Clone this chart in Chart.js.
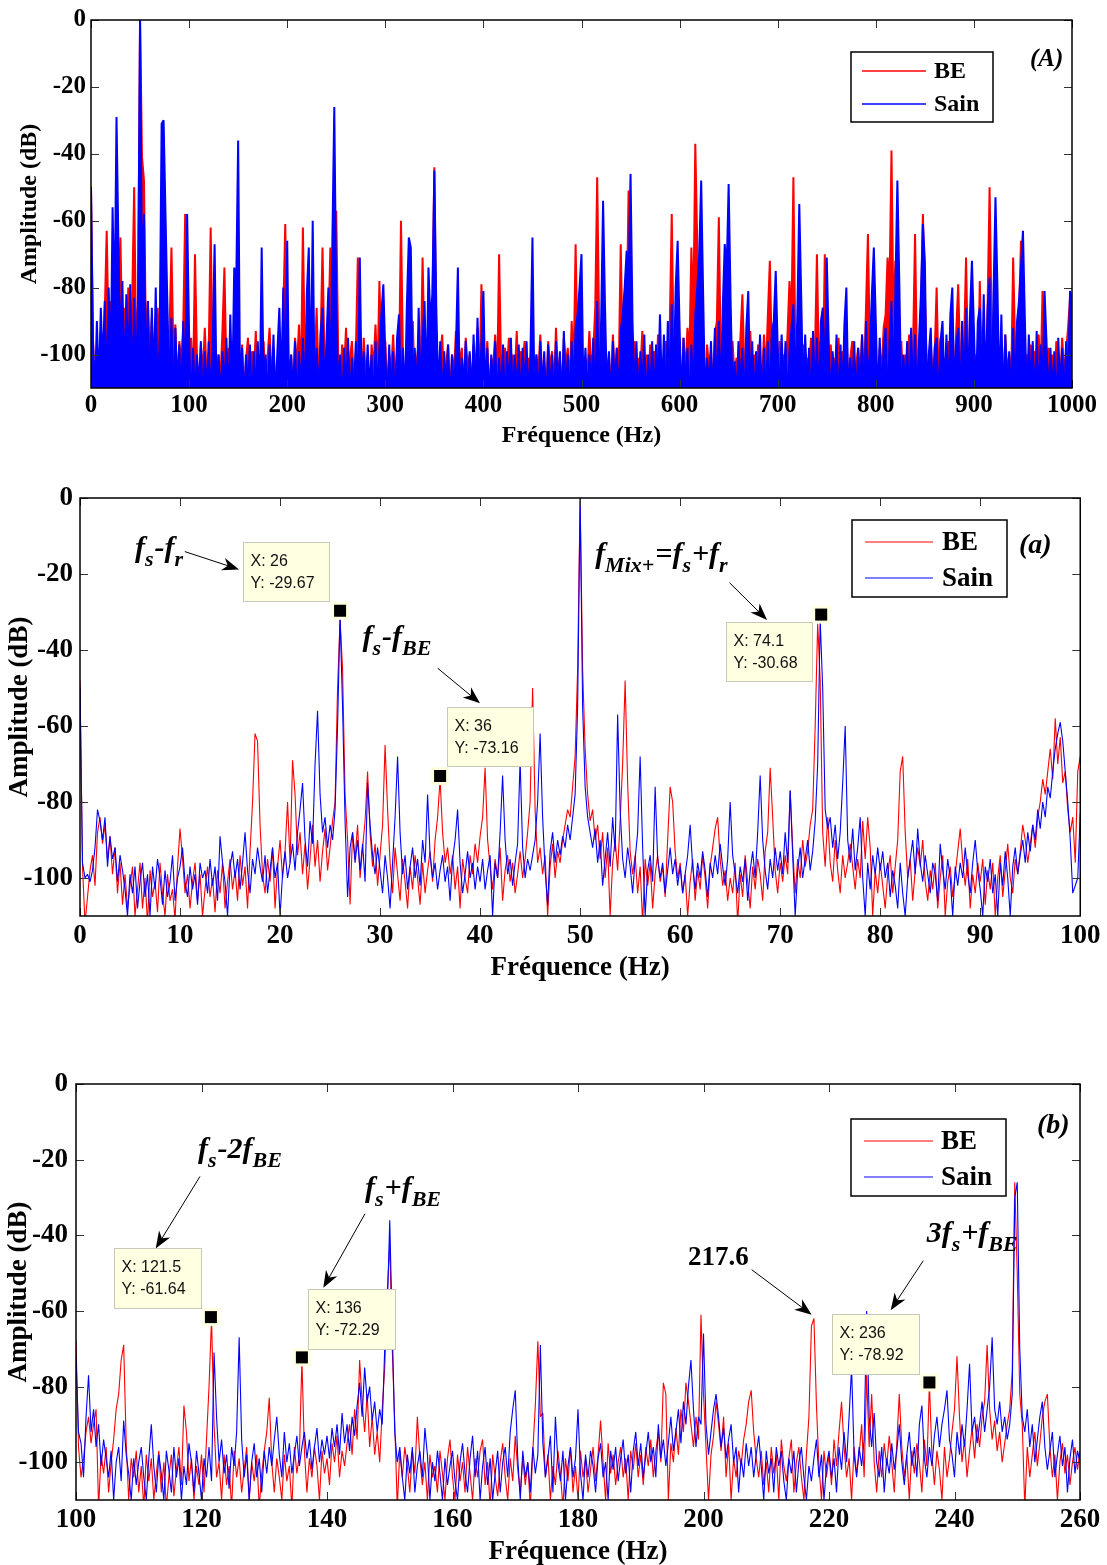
<!DOCTYPE html>
<html>
<head>
<meta charset="utf-8">
<title>Spectres BE / Sain</title>
<script src="https://cdn.jsdelivr.net/npm/chart.js@4.4.1/dist/chart.umd.min.js"></script>
<style>
  html, body { margin: 0; padding: 0; background: #fff; }
  body { position: relative; width: 1107px; height: 1565px; overflow: hidden; }
  canvas { position: absolute; left: 0; }
</style>
</head>
<body>
<canvas id="chartFull" width="1107" height="460" style="top:0px"></canvas>
<canvas id="chartLow" width="1107" height="520" style="top:470px"></canvas>
<canvas id="chartHigh" width="1107" height="516" style="top:1050px"></canvas>
<script>
const seriesNames = ["BE", "Sain"];
const seriesColors = ["#ff0000", "#0000ff"];
const yTicks = [0, -20, -40, -60, -80, -100];

// (A) 0-1000 Hz, one value every 2 Hz
const fullStart = 0, fullStep = 2;
const fullTicks = [0, 100, 200, 300, 400, 500, 600, 700, 800, 900, 1000];
const beFull = [
  -50,-95,-112,-98,-106,-93,-101,-88,-63,-96,-84,-104,-79,-92,-83,-65,-99,-86,-107,-80,-95,-84,-50,-98,-85,
  0,-41,-48,-96,-84,-102,-89,-110,-93,-86,-104,-90,-97,-85,-108,-94,-68,-100,-91,-112,-96,-103,-92,-58,-99,
  -104,-95,-110,-70,-101,-113,-97,-106,-92,-108,-99,-62,-103,-95,-111,-100,-107,-93,-74,-105,-98,-114,-96,-104,-91,
  -101,-108,-97,-112,-102,-95,-109,-99,-106,-93,-111,-100,-104,-96,-113,-101,-92,-107,-98,-110,-103,-94,-108,-88,-61,
  -97,-106,-100,-112,-95,-104,-91,-109,-62,-101,-107,-94,-110,-98,-103,-86,-108,-97,-68,-102,-111,-93,-68,-104,-99,
  -57,-100,-110,-97,-105,-92,-112,-101,-96,-108,-99,-71,-103,-110,-95,-106,-100,-113,-97,-104,-91,-107,-78,-102,-109,
  -96,-111,-100,-105,-94,-109,-99,-104,-60,-101,-112,-95,-107,-98,-90,-110,-102,-97,-106,-71,-100,-113,-96,-104,-88,
  -44,-99,-108,-101,-94,-110,-103,-97,-112,-100,-106,-93,-109,-102,-98,-111,-95,-104,-100,-113,-97,-105,-92,-108,-79,
  -100,-107,-96,-112,-101,-104,-94,-109,-70,-103,-111,-98,-105,-95,-110,-100,-107,-93,-112,-99,-104,-96,-109,-101,-106,
  -97,-111,-100,-105,-94,-108,-102,-113,-96,-104,-99,-110,-92,-106,-101,-112,-95,-103,-98,-109,-90,-104,-67,-100,-108,
  -95,-110,-101,-106,-93,-104,-99,-86,-47,-92,-103,-111,-97,-105,-100,-112,-94,-107,-98,-104,-67,-101,-110,-90,-51,
  -99,-108,-96,-111,-101,-105,-93,-109,-100,-113,-97,-104,-99,-110,-94,-107,-102,-111,-96,-104,-91,-58,-100,-108,-97,
  -103,-111,-95,-106,-92,-100,-68,-88,-37,-67,-96,-108,-101,-112,-97,-104,-99,-110,-94,-90,-59,-102,-109,-98,-105,
  -100,-112,-96,-107,-101,-110,-95,-82,-104,-99,-111,-93,-106,-100,-113,-97,-103,-108,-94,-105,-88,-72,-101,-110,-98,
  -104,-96,-111,-100,-107,-94,-78,-90,-47,-99,-103,-76,-108,-97,-112,-101,-105,-95,-110,-99,-70,-104,-96,-108,-70,
  -100,-110,-97,-105,-101,-113,-95,-107,-99,-104,-92,-109,-101,-96,-111,-103,-98,-106,-94,-110,-86,-64,-100,-108,-97,
  -104,-111,-98,-106,-92,-88,-71,-80,-39,-90,-72,-102,-108,-96,-111,-100,-105,-94,-109,-98,-64,-103,-110,-88,-58,
  -82,-104,-111,-97,-106,-100,-80,-108,-95,-112,-101,-104,-96,-110,-99,-106,-93,-79,-102,-109,-97,-71,-104,-111,-98,
  -105,-100,-112,-78,-103,-96,-108,-85,-50,-90,-101,-110,-97,-105,-99,-112,-94,-106,-100,-109,-71,-97,-104,-88,-66,
  -95,-107,-100,-111,-97,-104,-99,-110,-94,-106,-81,-101,-109,-98,-105,-100,-112,-96,-103,-108,-95,-106,-99,-92,-83,
  -90
];
const sainFull = [
  -50,-96,-112,-90,-110,-86,-104,-84,-112,-80,-106,-56,-88,-29,-68,-98,-78,-110,-82,-104,-79,-112,-83,-108,-81,
  0,-80,-58,-110,-84,-112,-86,-108,-80,-114,-95,-31,-30,-59,-87,-112,-89,-116,-92,-110,-97,-114,-90,-112,-58,
  -94,-116,-98,-112,-100,-110,-96,-115,-99,-112,-96,-114,-97,-67,-112,-100,-114,-99,-110,-95,-116,-88,-112,-74,-80,
  -36,-112,-98,-114,-100,-110,-97,-116,-99,-112,-96,-114,-68,-110,-100,-115,-97,-112,-94,-114,-99,-86,-110,-80,-112,
  -66,-114,-100,-112,-96,-116,-99,-110,-95,-114,-82,-68,-110,-60,-112,-98,-114,-94,-86,-112,-96,-80,-110,-67,-26,
  -84,-112,-100,-116,-98,-110,-95,-114,-101,-112,-96,-115,-71,-112,-99,-114,-97,-110,-100,-116,-96,-112,-98,-88,-79,
  -100,-114,-97,-112,-99,-116,-95,-88,-112,-98,-114,-85,-65,-68,-112,-98,-114,-86,-110,-95,-84,-112,-74,-90,-82,
  -45,-86,-112,-96,-114,-99,-110,-97,-116,-100,-112,-98,-74,-114,-101,-110,-96,-115,-99,-112,-94,-114,-89,-110,-97,
  -81,-112,-98,-115,-100,-110,-96,-114,-101,-112,-97,-116,-99,-110,-95,-114,-100,-112,-97,-115,-98,-110,-96,-114,-99,
  -65,-112,-100,-114,-96,-110,-99,-116,-97,-112,-100,-114,-96,-110,-99,-115,-93,-112,-100,-114,-96,-110,-92,-88,-80,
  -70,-112,-98,-114,-100,-110,-95,-116,-84,-112,-90,-54,-86,-112,-99,-114,-96,-110,-98,-115,-93,-88,-80,-69,-78,
  -46,-90,-112,-96,-114,-99,-110,-94,-116,-100,-112,-96,-114,-97,-110,-88,-112,-94,-115,-90,-112,-85,-110,-80,-66,
  -92,-114,-95,-110,-98,-116,-97,-112,-88,-80,-70,-48,-82,-114,-101,-110,-96,-115,-92,-112,-90,-114,-86,-67,-75,
  -49,-84,-112,-102,-114,-96,-110,-98,-116,-92,-81,-112,-96,-114,-99,-110,-94,-115,-98,-112,-96,-114,-93,-90,-75,
  -98,-114,-94,-110,-96,-116,-99,-92,-85,-112,-88,-55,-83,-114,-94,-110,-98,-116,-93,-112,-95,-114,-90,-86,-112,
  -71,-96,-114,-99,-110,-94,-116,-97,-112,-91,-80,-114,-101,-110,-96,-115,-98,-112,-94,-114,-90,-110,-98,-82,-68,
  -90,-114,-95,-112,-98,-92,-116,-96,-84,-112,-80,-48,-79,-114,-100,-110,-96,-115,-92,-112,-94,-114,-96,-82,-61,
  -72,-112,-100,-92,-114,-98,-95,-116,-96,-90,-112,-94,-114,-88,-80,-112,-97,-92,-115,-90,-112,-86,-110,-88,-72,
  -92,-114,-90,-86,-112,-82,-110,-86,-77,-114,-82,-53,-80,-112,-88,-116,-94,-110,-99,-114,-92,-112,-90,-84,-74,
  -63,-90,-114,-94,-110,-96,-116,-93,-112,-97,-110,-81,-96,-114,-98,-112,-99,-116,-95,-110,-98,-114,-96,-110,-81,
  -84
];

// (a) 0-100 Hz, one value every 0.25 Hz
const lowStart = 0, lowStep = 0.25;
const lowTicks = [0, 10, 20, 30, 40, 50, 60, 70, 80, 90, 100];
const beLow = [
  -48,-97,-112,-105,-98,-94,-102,-88,-84,-91,-86,-95,-89,-99,-92,-104,-96,-107,-99,-108,
  -102,-97,-110,-103,-96,-108,-100,-112,-98,-105,-101,-109,-96,-104,-110,-99,-106,-103,-111,-97,
  -87,-95,-104,-99,-108,-101,-96,-106,-99,-110,-103,-97,-105,-100,-109,-98,-104,-96,-108,-101,
  -95,-103,-98,-106,-94,-102,-97,-108,-93,-80,-62,-64,-86,-99,-104,-95,-101,-92,-108,-97,
  -90,-100,-93,-80,-96,-69,-78,-94,-88,-99,-91,-103,-95,-86,-97,-90,-101,-93,-87,-98,
  -92,-85,-80,-50,-32,-45,-78,-90,-107,-88,-95,-86,-100,-92,-85,-72,-88,-97,-91,-102,
  -94,-86,-65,-82,-96,-104,-92,-99,-106,-95,-101,-108,-97,-103,-94,-100,-107,-96,-104,-98,
  -93,-101,-90,-84,-74,-88,-96,-92,-99,-94,-103,-97,-108,-95,-100,-104,-94,-99,-91,-96,
  -89,-84,-71,-90,-97,-103,-95,-100,-92,-106,-98,-94,-101,-96,-104,-99,-93,-100,-95,-88,
  -80,-50,-82,-96,-92,-99,-94,-110,-97,-91,-100,-93,-96,-90,-86,-82,-84,-76,-68,-45,
  0,-45,-66,-78,-85,-82,-90,-86,-95,-88,-100,-92,-110,-96,-90,-98,-85,-70,-48,-75,
  -93,-99,-94,-104,-97,-112,-95,-102,-96,-108,-99,-94,-101,-97,-105,-90,-76,-80,-93,-100,
  -96,-104,-99,-110,-101,-95,-106,-98,-103,-94,-100,-108,-97,-92,-87,-84,-95,-102,-98,-106,
  -100,-104,-96,-112,-99,-105,-94,-101,-108,-97,-103,-95,-99,-106,-93,-88,-71,-84,-98,-104,
  -96,-101,-94,-99,-77,-92,-104,-95,-100,-90,-97,-93,-86,-82,-60,-33,-48,-88,-97,-84,
  -96,-101,-90,-98,-104,-94,-100,-96,-91,-97,-103,-95,-100,-85,-95,-84,-92,-110,-98,-104,
  -96,-102,-108,-99,-94,-104,-97,-90,-72,-68,-88,-100,-95,-106,-98,-92,-97,-90,-101,-106,
  -98,-103,-96,-108,-100,-94,-110,-101,-97,-105,-99,-93,-87,-96,-102,-95,-108,-99,-104,-96,
  -101,-95,-107,-98,-103,-96,-110,-100,-94,-105,-98,-91,-100,-104,-95,-99,-93,-86,-90,-96,
  -91,-86,-92,-84,-80,-74,-78,-72,-66,-74,-58,-70,-63,-75,-72,-82,-88,-84,-96,-72,
  -68
];
const sainLow = [
  -50,-96,-100,-99,-101,-98,-92,-82,-85,-90,-84,-97,-89,-95,-92,-101,-94,-98,-103,-110,
  -99,-104,-97,-108,-101,-96,-105,-99,-110,-97,-103,-95,-100,-107,-98,-105,-101,-94,-106,-100,
  -97,-92,-101,-105,-97,-103,-99,-107,-96,-100,-98,-104,-95,-102,-97,-106,-89,-96,-101,-110,
  -97,-93,-100,-95,-103,-96,-88,-98,-104,-95,-99,-92,-97,-101,-94,-104,-98,-92,-100,-96,
  -110,-99,-93,-100,-96,-91,-98,-88,-82,-75,-90,-97,-85,-91,-70,-56,-78,-88,-84,-92,
  -86,-90,-82,-60,-31,-55,-85,-105,-92,-88,-96,-90,-98,-91,-101,-75,-86,-94,-99,-92,
  -98,-104,-94,-100,-108,-96,-84,-68,-88,-99,-94,-103,-97,-92,-100,-95,-102,-90,-96,-78,
  -94,-100,-96,-103,-98,-94,-101,-97,-106,-95,-90,-82,-96,-104,-99,-93,-100,-96,-103,-97,
  -101,-95,-103,-98,-94,-110,-96,-100,-88,-73,-90,-99,-95,-102,-96,-91,-69,-92,-100,-95,
  -98,-94,-90,-80,-62,-84,-98,-107,-93,-88,-96,-90,-94,-89,-92,-86,-90,-84,-78,-55,
  0,-55,-76,-84,-88,-92,-87,-96,-90,-102,-95,-88,-97,-84,-93,-57,-82,-95,-100,-92,
  -97,-104,-95,-88,-68,-92,-110,-98,-94,-101,-76,-95,-100,-96,-104,-98,-92,-99,-95,-102,
  -97,-104,-99,-94,-86,-97,-103,-96,-100,-93,-98,-105,-96,-100,-94,-99,-91,-97,-102,-95,
  -80,-94,-99,-104,-97,-101,-95,-106,-98,-93,-100,-88,-73,-90,-98,-103,-95,-100,-92,-98,
  -93,-99,-88,-96,-77,-94,-110,-98,-92,-100,-95,-90,-98,-93,-85,-70,-32,-50,-82,-87,
  -84,-92,-86,-95,-88,-75,-60,-90,-96,-87,-98,-92,-84,-100,-110,-96,-103,-94,-99,-92,
  -98,-93,-100,-96,-105,-98,-102,-108,-96,-104,-110,-100,-95,-90,-99,-87,-96,-101,-94,-99,
  -104,-96,-99,-106,-91,-98,-103,-95,-100,-110,-97,-102,-96,-100,-92,-99,-104,-96,-90,-98,
  -103,-110,-97,-101,-95,-104,-99,-110,-96,-102,-93,-100,-110,-97,-92,-99,-94,-90,-96,-88,
  -93,-86,-90,-82,-87,-80,-84,-76,-79,-72,-66,-62,-59,-64,-72,-80,-90,-104,-102,-100,
  -83
];
const lowTips = [[26, -29.67], [36, -73.16], [74.1, -30.68]];

// (b) 100-260 Hz, one value every 0.4 Hz
const highStart = 100, highStep = 0.4;
const highTicks = [100, 120, 140, 160, 180, 200, 220, 240, 260];
const beHigh = [
  -68,-96,-104,-99,-92,-88,-95,-90,-86,-112,-98,-103,-96,-108,-100,-94,-86,-82,-73,-69,-95,-110,-99,-104,-97,
  -108,-101,-112,-98,-105,-99,-110,-103,-97,-108,-100,-112,-104,-98,-109,-102,-96,-106,-85,-92,-105,-99,-110,-101,-106,
  -98,-108,-94,-80,-62,-90,-104,-100,-110,-98,-106,-101,-112,-97,-104,-99,-108,-102,-96,-110,-100,-105,-98,-112,-103,
  -97,-92,-83,-100,-108,-99,-104,-110,-98,-105,-101,-112,-96,-103,-98,-73,-97,-108,-99,-104,-96,-101,-110,-97,-103,
  -99,-106,-95,-100,-93,-104,-97,-101,-95,-90,-98,-86,-94,-73,-84,-92,-82,-96,-88,-98,-92,-100,-86,-75,-55,
  -42,-70,-90,-112,-97,-104,-96,-101,-108,-97,-103,-88,-99,-106,-100,-110,-98,-104,-101,-108,-97,-103,-110,-99,-94,
  -104,-110,-98,-105,-100,-108,-96,-103,-110,-99,-104,-97,-94,-106,-100,-112,-98,-104,-109,-100,-95,-104,-110,-99,-105,
  -93,-102,-108,-99,-106,-100,-112,-97,-85,-68,-88,-87,-104,-98,-110,-101,-106,-97,-103,-112,-99,-105,-96,-108,-101,
  -110,-97,-104,-99,-108,-102,-96,-105,-98,-89,-100,-110,-95,-103,-98,-106,-100,-96,-104,-99,-110,-97,-102,-95,-104,
  -98,-106,-96,-101,-94,-104,-97,-92,-100,-79,-82,-110,-95,-100,-91,-98,-86,-92,-79,-84,-90,-96,-88,-94,-61,
  -82,-96,-110,-98,-93,-84,-90,-97,-88,-104,-95,-110,-99,-104,-97,-101,-94,-90,-84,-81,-92,-99,-104,-97,-106,
  -100,-108,-96,-103,-98,-110,-94,-101,-105,-99,-94,-108,-100,-96,-104,-110,-98,-88,-64,-62,-85,-101,-110,-97,-104,
  -98,-106,-94,-101,-92,-84,-96,-104,-99,-110,-96,-103,-98,-90,-104,-77,-96,-82,-100,-108,-97,-104,-95,-101,-93,
  -100,-108,-95,-82,-96,-104,-98,-110,-97,-103,-95,-100,-108,-94,-101,-79,-98,-106,-97,-102,-110,-96,-104,-99,-92,
  -86,-72,-88,-100,-94,-104,-97,-91,-99,-90,-96,-88,-84,-69,-86,-94,-89,-97,-92,-100,-95,-90,-86,-76,-26,
  -50,-82,-90,-112,-96,-104,-98,-92,-101,-95,-88,-84,-82,-96,-104,-98,-110,-100,-95,-103,-98,-106,-100,-96,-102,
  -97
];
const sainHigh = [
  -72,-92,-95,-104,-88,-77,-92,-86,-96,-90,-101,-94,-99,-104,-97,-110,-100,-96,-105,-89,-98,-103,-110,-99,-106,
  -100,-96,-104,-110,-99,-90,-101,-108,-98,-103,-110,-97,-102,-108,-96,-104,-99,-110,-101,-106,-95,-100,-108,-97,-103,
  -110,-99,-104,-96,-105,-71,-88,-100,-94,-103,-98,-107,-96,-101,-92,-67,-94,-104,-98,-110,-100,-95,-104,-99,-108,
  -97,-103,-96,-101,-94,-88,-98,-104,-92,-100,-95,-103,-98,-93,-101,-96,-92,-99,-94,-102,-96,-91,-100,-94,-98,
  -93,-99,-91,-96,-90,-98,-87,-95,-90,-97,-88,-93,-85,-79,-88,-75,-84,-80,-89,-84,-92,-86,-90,-70,-60,
  -36,-65,-92,-100,-96,-104,-110,-98,-103,-96,-108,-101,-97,-104,-91,-98,-110,-100,-105,-97,-103,-110,-99,-106,-101,
  -97,-105,-110,-100,-95,-103,-108,-99,-93,-104,-97,-110,-101,-96,-106,-99,-110,-103,-97,-108,-100,-96,-104,-92,-86,
  -81,-99,-110,-97,-104,-100,-108,-96,-103,-98,-69,-95,-104,-99,-93,-108,-88,-100,-105,-97,-110,-101,-96,-104,-99,
  -86,-103,-110,-98,-104,-97,-101,-108,-99,-95,-104,-100,-110,-97,-102,-96,-105,-99,-94,-103,-98,-108,-97,-92,-101,
  -95,-104,-98,-92,-100,-96,-104,-90,-99,-94,-101,-95,-88,-97,-92,-86,-95,-84,-90,-80,-73,-86,-96,-88,-90,
  -66,-90,-98,-92,-86,-82,-88,-96,-91,-99,-94,-90,-100,-96,-108,-99,-104,-95,-101,-96,-104,-98,-93,-101,-110,
  -97,-103,-99,-108,-96,-101,-97,-105,-110,-99,-103,-97,-108,-100,-96,-104,-110,-101,-105,-99,-94,-104,-98,-110,-101,
  -97,-104,-99,-108,-96,-102,-92,-100,-88,-75,-98,-104,-96,-101,-94,-60,-88,-96,-87,-100,-104,-96,-108,-99,-103,
  -95,-102,-97,-90,-100,-106,-98,-92,-101,-96,-104,-90,-85,-99,-104,-96,-101,-93,-88,-96,-90,-86,-81,-94,-98,
  -104,-92,-98,-90,-96,-86,-74,-92,-88,-95,-90,-84,-92,-86,-80,-67,-86,-90,-84,-92,-88,-94,-90,-82,-30,
  -26,-70,-88,-92,-86,-96,-90,-100,-94,-88,-84,-96,-102,-97,-92,-104,-98,-93,-101,-96,-108,-99,-94,-103,-97,
  -100
];
const highTips = [[121.5, -61.64], [136, -72.29], [236, -78.92]];

// ---------- drawing helpers ----------
function toPoints(start, step, values) {
  return values.map((v, i) => ({ x: start + i * step, y: v }));
}

function drawArrow(ctx, x1, y1, x2, y2) {
  const a = Math.atan2(y2 - y1, x2 - x1), L = 17, W = 6.5;
  const c = Math.cos(a), s = Math.sin(a);
  ctx.lineWidth = 1;
  ctx.beginPath();
  ctx.moveTo(x1, y1);
  ctx.lineTo(x2 - c * L * 0.6, y2 - s * L * 0.6);
  ctx.stroke();
  ctx.beginPath();
  ctx.moveTo(x2, y2);
  ctx.lineTo(x2 - c * L + s * W, y2 - s * L - c * W);
  ctx.lineTo(x2 - c * L * 0.7, y2 - s * L * 0.7);
  ctx.lineTo(x2 - c * L - s * W, y2 - s * L + c * W);
  ctx.closePath();
  ctx.fill();
}

function drawNote(ctx, x, y, parts, size, upright) {
  const style = upright ? "bold " : "italic bold ";
  ctx.textAlign = "left";
  ctx.textBaseline = "alphabetic";
  let cx = x;
  parts.forEach(([txt, sub]) => {
    const fs = sub ? Math.round(size * 0.74) : size;
    ctx.font = style + fs + 'px "Liberation Serif"';
    ctx.fillText(txt, cx, sub ? y + size * 0.3 : y);
    cx += ctx.measureText(txt).width + (sub ? 1 : 0);
  });
}

function decorPlugin(d) {
  return {
    id: "decor",
    afterDraw(chart) {
      const ctx = chart.ctx;
      const { left, right, top, bottom } = chart.chartArea;
      const xs = chart.scales.x, ys = chart.scales.y;
      const px = v => xs.getPixelForValue(v), py = v => ys.getPixelForValue(v);
      ctx.save();

      // inward tick marks on all four sides, then the box
      ctx.strokeStyle = "#333";
      ctx.lineWidth = 1;
      ctx.beginPath();
      xs.ticks.forEach(t => {
        const x = Math.round(px(t.value)) + 0.5;
        ctx.moveTo(x, bottom); ctx.lineTo(x, bottom - 8);
        ctx.moveTo(x, top); ctx.lineTo(x, top + 8);
      });
      ys.ticks.forEach(t => {
        const y = Math.round(py(t.value)) + 0.5;
        ctx.moveTo(left, y); ctx.lineTo(left + 8, y);
        ctx.moveTo(right, y); ctx.lineTo(right - 8, y);
      });
      ctx.stroke();
      ctx.strokeStyle = "#000";
      ctx.lineWidth = 1.5;
      ctx.strokeRect(left, top, right - left, bottom - top);

      // text notes and arrows (anchored in data units)
      ctx.fillStyle = "#000";
      ctx.strokeStyle = "#000";
      (d.notes || []).forEach(n => drawNote(ctx, px(n.at[0]), py(n.at[1]), n.parts, n.size, n.upright));
      (d.arrows || []).forEach(a => drawArrow(ctx, px(a[0]), py(a[1]), px(a[2]), py(a[3])));

      // data tips
      (d.tips || []).forEach((t, i) => {
        const mx = px(t[0]), my = py(t[1]);
        ctx.fillStyle = "#ffffe1";
        ctx.fillRect(mx - 9, my - 9, 18, 18);
        ctx.fillStyle = "#000";
        ctx.fillRect(mx - 6, my - 6, 12, 12);
        const b = d.tipBoxes[i];
        const bx = Math.round(px(b[0])) + 0.5, by = Math.round(py(b[1])) + 0.5;
        ctx.fillStyle = "#ffffe1";
        ctx.fillRect(bx, by, d.tipSize[0], d.tipSize[1]);
        ctx.strokeStyle = "#c8c8b8";
        ctx.lineWidth = 1;
        ctx.strokeRect(bx, by, d.tipSize[0], d.tipSize[1]);
        ctx.fillStyle = "#111";
        ctx.font = '16px "Liberation Sans"';
        ctx.textAlign = "left";
        ctx.textBaseline = "middle";
        ctx.fillText("X: " + t[0], bx + 7, by + 19);
        ctx.fillText("Y: " + t[1], bx + 7, by + 41);
      });

      // legend box
      const lg = d.legend;
      ctx.fillStyle = "#fff";
      ctx.fillRect(lg.x, lg.y, lg.w, lg.h);
      ctx.strokeStyle = "#000";
      ctx.lineWidth = 1.5;
      ctx.strokeRect(lg.x, lg.y, lg.w, lg.h);
      chart.data.datasets.forEach((ds, i) => {
        const y = lg.rows[i];
        ctx.strokeStyle = ds.borderColor;
        ctx.lineWidth = lg.lw;
        ctx.beginPath();
        ctx.moveTo(lg.line[0], y); ctx.lineTo(lg.line[1], y);
        ctx.stroke();
        ctx.fillStyle = "#000";
        ctx.font = "bold " + lg.size + 'px "Liberation Serif"';
        ctx.textAlign = "left";
        ctx.textBaseline = "middle";
        ctx.fillText(ds.label, lg.textX, y + 1);
      });

      // panel tag
      ctx.font = "italic bold " + d.tag.size + 'px "Liberation Serif"';
      ctx.fillStyle = "#000";
      ctx.textBaseline = "middle";
      ctx.fillText(d.tag.text, d.tag.x, d.tag.y);
      ctx.restore();
    }
  };
}

function makeChart(id, c) {
  const serif = (size) => ({ family: "Liberation Serif", size: size, weight: "bold", lineHeight: 1 });
  return new Chart(document.getElementById(id), {
    type: "line",
    data: {
      datasets: [
        { label: seriesNames[0], data: toPoints(c.start, c.step, c.be), borderColor: seriesColors[0],
          backgroundColor: seriesColors[0], order: 1 },
        { label: seriesNames[1], data: toPoints(c.start, c.step, c.sain), borderColor: seriesColors[1],
          backgroundColor: seriesColors[1], order: 0 }
      ].map(ds => Object.assign(ds, {
        borderWidth: c.lineWidth, pointRadius: 0, fill: c.fill ? "start" : false, tension: 0,
        borderJoinStyle: "bevel"
      }))
    },
    options: {
      responsive: false,
      animation: false,
      events: [],
      layout: { padding: c.pad },
      plugins: { legend: { display: false }, tooltip: { enabled: false } },
      scales: {
        x: {
          type: "linear",
          min: c.xTicks[0],
          max: c.xTicks[c.xTicks.length - 1],
          grid: { display: false, drawTicks: false },
          border: { display: false },
          afterBuildTicks: s => { s.ticks = c.xTicks.map(v => ({ value: v })); },
          afterFit: s => { s.height = c.xHeight; },
          ticks: { autoSkip: false, maxRotation: 0, padding: c.xTickPad, color: "#000",
                   font: serif(c.tickSize), callback: v => String(v) },
          title: { display: true, text: "Fréquence (Hz)", color: "#000", font: serif(c.titleSize), padding: 0 }
        },
        y: {
          min: -110,
          max: 0,
          grid: { display: false, drawTicks: false },
          border: { display: false },
          afterBuildTicks: s => { s.ticks = yTicks.map(v => ({ value: v })); },
          afterFit: s => { s.width = c.yWidth; },
          ticks: { autoSkip: false, padding: c.yTickPad, color: "#000",
                   font: serif(c.tickSize), callback: v => String(v) },
          title: { display: true, text: "Amplitude (dB)", color: "#000", font: serif(c.titleSize),
                   padding: { top: c.yTitlePad, bottom: 0 } }
        }
      }
    },
    plugins: [decorPlugin(c.decor)]
  });
}

// ---------- the three panels ----------
makeChart("chartFull", {
  start: fullStart, step: fullStep, be: beFull, sain: sainFull, xTicks: fullTicks,
  lineWidth: 2, fill: true, pad: { left: 0, right: 35, top: 20, bottom: 12 },
  xHeight: 60, yWidth: 91, xTickPad: 5.5, yTickPad: 5, yTitlePad: 18, tickSize: 25, titleSize: 24,
  decor: {
    legend: { x: 851, y: 52, w: 142, h: 70, line: [862, 926], rows: [71, 104], textX: 934, size: 24, lw: 1.6 },
    tag: { text: "(A)", x: 1030, y: 60, size: 25 }
  }
});

makeChart("chartLow", {
  start: lowStart, step: lowStep, be: beLow, sain: sainLow, xTicks: lowTicks,
  lineWidth: 1.1, pad: { left: 0, right: 25, top: 28, bottom: 8.5 },
  xHeight: 65.5, yWidth: 80, xTickPad: 6.5, yTickPad: 7, yTitlePad: 6.5, tickSize: 27, titleSize: 27,
  decor: {
    legend: { x: 852, y: 50, w: 155, h: 77, line: [865, 933], rows: [72, 108], textX: 942, size: 27, lw: 1.2 },
    tag: { text: "(a)", x: 1019, y: 76, size: 28 },
    tips: lowTips,
    tipBoxes: [[16.3, -11.5], [36.66, -54.9], [64.54, -32.5]],
    tipSize: [86, 59],
    notes: [
      { at: [5.49, -15.5], size: 30, parts: [["f", 0], ["s", 1], ["-f", 0], ["r", 1]] },
      { at: [28.24, -38.9], size: 30, parts: [["f", 0], ["s", 1], ["-f", 0], ["BE", 1]] },
      { at: [51.5, -17.1], size: 30, parts: [["f", 0], ["Mix+", 1], ["=f", 0], ["s", 1], ["+f", 0], ["r", 1]] }
    ],
    arrows: [
      [10.48, -14.1, 15.9, -18.8],
      [35.76, -44.8, 39.99, -54.0],
      [64.94, -22.3, 68.69, -32.1]
    ]
  }
});

makeChart("chartHigh", {
  start: highStart, step: highStep, be: beHigh, sain: sainHigh, xTicks: highTicks,
  lineWidth: 1.1, pad: { left: 0, right: 27, top: 34, bottom: 0 },
  xHeight: 66, yWidth: 76, xTickPad: 6.5, yTickPad: 8, yTitlePad: 5.5, tickSize: 27, titleSize: 27,
  decor: {
    legend: { x: 851, y: 69, w: 155, h: 77, line: [864, 933], rows: [91, 127], textX: 941, size: 27, lw: 1.2 },
    tag: { text: "(b)", x: 1037, y: 76, size: 28 },
    tips: highTips,
    tipBoxes: [[106.1, -43.3], [137.02, -54.2], [220.53, -60.8]],
    tipSize: [87, 60],
    notes: [
      { at: [119.44, -19.5], size: 30, parts: [["f", 0], ["s", 1], ["-2f", 0], ["BE", 1]] },
      { at: [146.06, -29.8], size: 30, parts: [["f", 0], ["s", 1], ["+f", 0], ["BE", 1]] },
      { at: [197.53, -47.8], size: 27, upright: true, parts: [["217.6", 0]] },
      { at: [235.56, -41.7], size: 30, parts: [["3f", 0], ["s", 1], ["+f", 0], ["BE", 1]] }
    ],
    arrows: [
      [119.76, -24.45, 112.7, -43.5],
      [146.06, -34.3, 139.41, -53.9],
      [207.68, -49.1, 217.24, -61.0],
      [235.03, -46.7, 229.83, -59.8]
    ]
  }
});
</script>
</body>
</html>
